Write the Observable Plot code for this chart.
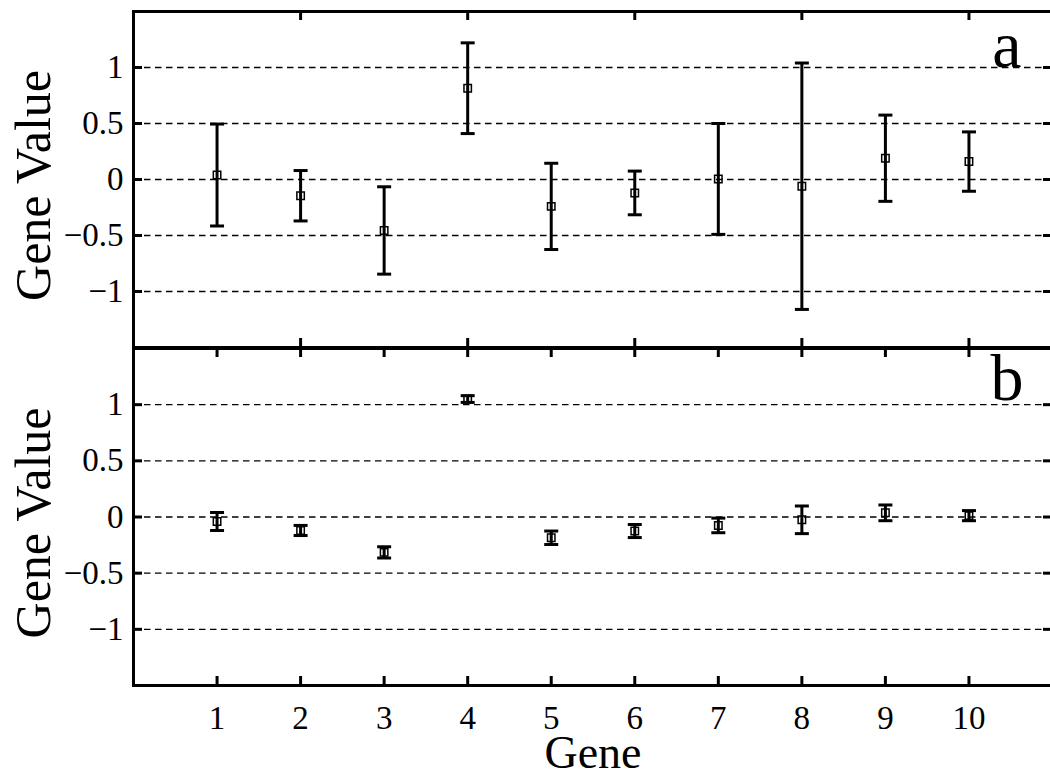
<!DOCTYPE html>
<html>
<head>
<meta charset="utf-8">
<script src="https://cdn.jsdelivr.net/npm/d3@7"></script>
<script src="https://cdn.jsdelivr.net/npm/@observablehq/plot@0.6"></script>
<style>
  html, body { margin: 0; padding: 0; background: #fff; overflow: hidden; }
  #chart svg { display: block; overflow: visible; }
</style>
</head>
<body>
<div id="chart"></div>
<script>
// Gene indices
const genes = [1, 2, 3, 4, 5, 6, 7, 8, 9, 10];

// Panel a: estimates with wide uncertainty
const meanA = [0.04, -0.145, -0.455, 0.815, -0.24, -0.12, 0.005, -0.06, 0.19, 0.16];
const errA  = [0.455, 0.225, 0.39, 0.405, 0.385, 0.195, 0.495, 1.1, 0.385, 0.265];

// Panel b: estimates with narrow uncertainty
const meanB = [-0.04, -0.12, -0.315, 1.05, -0.185, -0.125, -0.075, -0.025, 0.037, 0.012];
const errB  = [0.08, 0.045, 0.05, 0.03, 0.06, 0.058, 0.065, 0.123, 0.07, 0.045];

// Axis ticks and labels
const yTicks = [-1, -0.5, 0, 0.5, 1];
const yTickLabels = ["\u22121", "\u22120.5", "0", "0.5", "1"];
const xTicksA = [2, 4, 6, 8, 10];
const xTicksB = [1, 2, 3, 4, 5, 6, 7, 8, 9, 10];
const xTickLabels = ["1", "2", "3", "4", "5", "6", "7", "8", "9", "10"];

const X_DOMAIN = [0, 11];
const Y_DOMAIN = [-1.5, 1.5];

const rowsA = genes.map((g, i) => ({gene: g, mean: meanA[i], lo: meanA[i] - errA[i], hi: meanA[i] + errA[i]}));
const rowsB = genes.map((g, i) => ({gene: g, mean: meanB[i], lo: meanB[i] - errB[i], hi: meanB[i] + errB[i]}));

const FONT = "'Liberation Serif', 'Times New Roman', serif";
const WIDTH = 1050, MARGIN_LEFT = 133, MARGIN_RIGHT = -2;
const TICK_PX = 9;

// Horizontal cap drawn at each error bar end
const capSymbol = {
  draw(context) {
    context.moveTo(-7, 0);
    context.lineTo(7, 0);
  }
};

function panel(rows, xTicks, letter, opts) {
  // inward tick length, expressed in data units of each scale
  const plotW = WIDTH - MARGIN_LEFT - MARGIN_RIGHT;
  const plotH = opts.height - opts.marginTop - opts.marginBottom;
  const tx = TICK_PX * (X_DOMAIN[1] - X_DOMAIN[0]) / plotW;
  const ty = TICK_PX * (Y_DOMAIN[1] - Y_DOMAIN[0]) / plotH;
  const tickStyle = {stroke: "#000", strokeWidth: 3};

  const marks = [
    Plot.ruleY(yTicks, {stroke: "#000", strokeWidth: 1.4, strokeDasharray: "6.5,4.5"}),
    Plot.ruleX(rows, {x: "gene", y1: "lo", y2: "hi", stroke: "#000", strokeWidth: 3}),
    Plot.dot(rows, {x: "gene", y: "hi", symbol: capSymbol, r: 7, stroke: "#000", fill: "none", strokeWidth: 3}),
    Plot.dot(rows, {x: "gene", y: "lo", symbol: capSymbol, r: 7, stroke: "#000", fill: "none", strokeWidth: 3}),
    Plot.dot(rows, {x: "gene", y: "mean", symbol: "square", r: 4.2, stroke: "#000", fill: "none", strokeWidth: 1.5}),
    // inward tick marks on all four sides
    Plot.ruleX(xTicks, {x: d => d, y1: Y_DOMAIN[0], y2: Y_DOMAIN[0] + ty, ...tickStyle}),
    Plot.ruleX(xTicks, {x: d => d, y1: Y_DOMAIN[1] - ty, y2: Y_DOMAIN[1], ...tickStyle}),
    Plot.ruleY(yTicks, {y: d => d, x1: X_DOMAIN[0], x2: X_DOMAIN[0] + tx, ...tickStyle}),
    Plot.ruleY(yTicks, {y: d => d, x1: X_DOMAIN[1] - tx, x2: X_DOMAIN[1], ...tickStyle}),
    // y tick labels
    Plot.axisY(yTicks, {anchor: "left", tickSize: 0, tickPadding: 10, fontSize: 33,
      tickFormat: d => yTickLabels[yTicks.indexOf(d)], label: null}),
    Plot.frame({stroke: "#000", strokeWidth: 3}),
    Plot.text(["Gene Value"], {text: d => d, frameAnchor: "left", textAnchor: "middle", lineAnchor: "middle",
      rotate: -90, dx: -100, dy: 6, fontSize: 50}),
    Plot.text([letter], {text: d => d, frameAnchor: "top-right", textAnchor: "end", lineAnchor: "top",
      dx: opts.letterDx, dy: opts.letterDy, fontSize: 66})
  ];
  if (opts.xLabels) {
    marks.push(
      Plot.axisX(xTicks, {anchor: "bottom", tickSize: 0, tickPadding: 20, fontSize: 33,
        tickFormat: d => xTickLabels[xTicksB.indexOf(d)], label: null}),
      Plot.text(["Gene"], {text: d => d, frameAnchor: "bottom", textAnchor: "middle", lineAnchor: "top",
        dy: 50, fontSize: 46})
    );
  }
  return Plot.plot({
    width: WIDTH,
    height: opts.height,
    marginLeft: MARGIN_LEFT,
    marginRight: MARGIN_RIGHT,
    marginTop: opts.marginTop,
    marginBottom: opts.marginBottom,
    style: {fontFamily: FONT, color: "#000", background: "#fff", overflow: "visible"},
    x: {domain: X_DOMAIN, axis: null},
    y: {domain: Y_DOMAIN, axis: null},
    marks
  });
}

const chart = document.getElementById("chart");
chart.append(
  panel(rowsA, xTicksA, "a", {height: 347, marginTop: 11, marginBottom: 0, letterDx: -31, letterDy: 9}),
  panel(rowsB, xTicksB, "b", {height: 431, marginTop: 1, marginBottom: 93, letterDx: -29, letterDy: 5, xLabels: true})
);
</script>
</body>
</html>
